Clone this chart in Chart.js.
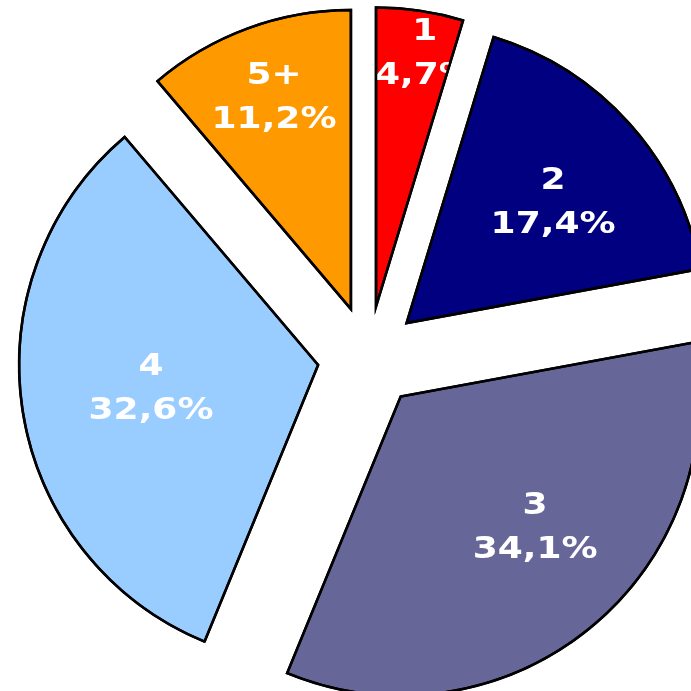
<!DOCTYPE html>
<html lang="en">
<head>
  <meta charset="UTF-8" />
  <title>Share by group</title>
  <style>
    html, body {
      margin: 0;
      padding: 0;
      background: #FFFFFF;
      overflow: hidden;
    }
    #chartBox {
      position: relative;
      width: 691px;
      height: 691px;
    }
  </style>
</head>
<body>
  <div id="chartBox"><canvas id="pieChart"></canvas></div>

  <script src="https://cdn.jsdelivr.net/npm/chart.js"></script>
  <script>
    // Data
    const categories = ['1', '2', '3', '4', '5+'];
    const shares = [4.7, 17.4, 34.1, 32.6, 11.2];
    const shareLabels = ['4,7%', '17,4%', '34,1%', '32,6%', '11,2%'];

    // Look
    const SLICE_COLORS = ['#FF0000', '#000080', '#666699', '#99CCFF', '#FF9900'];
    const PIE_RADIUS = 299;      // px
    const EXPLODE = 51;          // every slice pulled out by the same distance
    const BORDER = 2.5;
    // label placement per slice: fraction of radius, and a small turn (degrees) off the bisector
    const LABEL_FRAC = [0.86, 0.632, 0.63, 0.565, 0.75];
    const LABEL_TURN = [2.5, 2.6, -6.5, 0.6, 0.1];
    const LINE_GAP = 44;

    // Move every arc out along its own bisector
    const explodePlugin = {
      id: 'explode',
      afterDatasetUpdate(chart, args) {
        args.meta.data.forEach(arc => {
          const mid = (arc.startAngle + arc.endAngle) / 2;
          arc.x += Math.cos(mid) * EXPLODE;
          arc.y += Math.sin(mid) * EXPLODE;
        });
      }
    };

    // White two-line labels, clipped to their slice, then the border drawn again on top
    const sliceLabels = {
      id: 'sliceLabels',
      afterDatasetsDraw(chart) {
        const ctx = chart.ctx;
        const arcs = chart.getDatasetMeta(0).data;
        arcs.forEach((arc, i) => {
          const { x, y, startAngle, endAngle, outerRadius } = arc.getProps(['x', 'y', 'startAngle', 'endAngle', 'outerRadius'], true);
          const mid = (startAngle + endAngle) / 2 + LABEL_TURN[i] * Math.PI / 180;
          const r = outerRadius * LABEL_FRAC[i];
          const lx = x + Math.cos(mid) * r;
          const ly = y + Math.sin(mid) * r;

          ctx.save();
          ctx.beginPath();
          ctx.moveTo(x, y);
          ctx.arc(x, y, outerRadius, startAngle, endAngle);
          ctx.closePath();
          ctx.clip();

          ctx.fillStyle = '#FFFFFF';
          ctx.font = 'bold 30px "DejaVu Sans", Verdana, sans-serif';
          ctx.textAlign = 'center';
          ctx.textBaseline = 'middle';
          [categories[i], shareLabels[i]].forEach((txt, k) => {
            ctx.save();
            ctx.translate(lx, ly + (k - 0.5) * LINE_GAP);
            ctx.scale(1.2, 1); // the original lettering is a touch wide
            ctx.fillText(txt, 0, 0);
            ctx.restore();
          });
          ctx.restore();

          // re-stroke the outline so the text never covers it
          ctx.save();
          ctx.beginPath();
          ctx.moveTo(x, y);
          ctx.arc(x, y, outerRadius, startAngle, endAngle);
          ctx.closePath();
          ctx.lineWidth = BORDER;
          ctx.lineJoin = 'miter';
          ctx.strokeStyle = '#000000';
          ctx.stroke();
          ctx.restore();
        });
      }
    };

    new Chart(document.getElementById('pieChart').getContext('2d'), {
      type: 'pie',
      data: {
        labels: categories,
        datasets: [{
          data: shares,
          backgroundColor: SLICE_COLORS,
          borderColor: '#000000',
          borderWidth: BORDER,
          borderJoinStyle: 'miter',
          radius: PIE_RADIUS,
          clip: false
        }]
      },
      options: {
        responsive: true,
        maintainAspectRatio: false,
        animation: false,
        layout: { padding: { left: 46, top: 23, right: 0, bottom: 0 } },
        plugins: {
          legend: { display: false },
          tooltip: { enabled: false }
        }
      },
      plugins: [explodePlugin, sliceLabels]
    });
  </script>
</body>
</html>
